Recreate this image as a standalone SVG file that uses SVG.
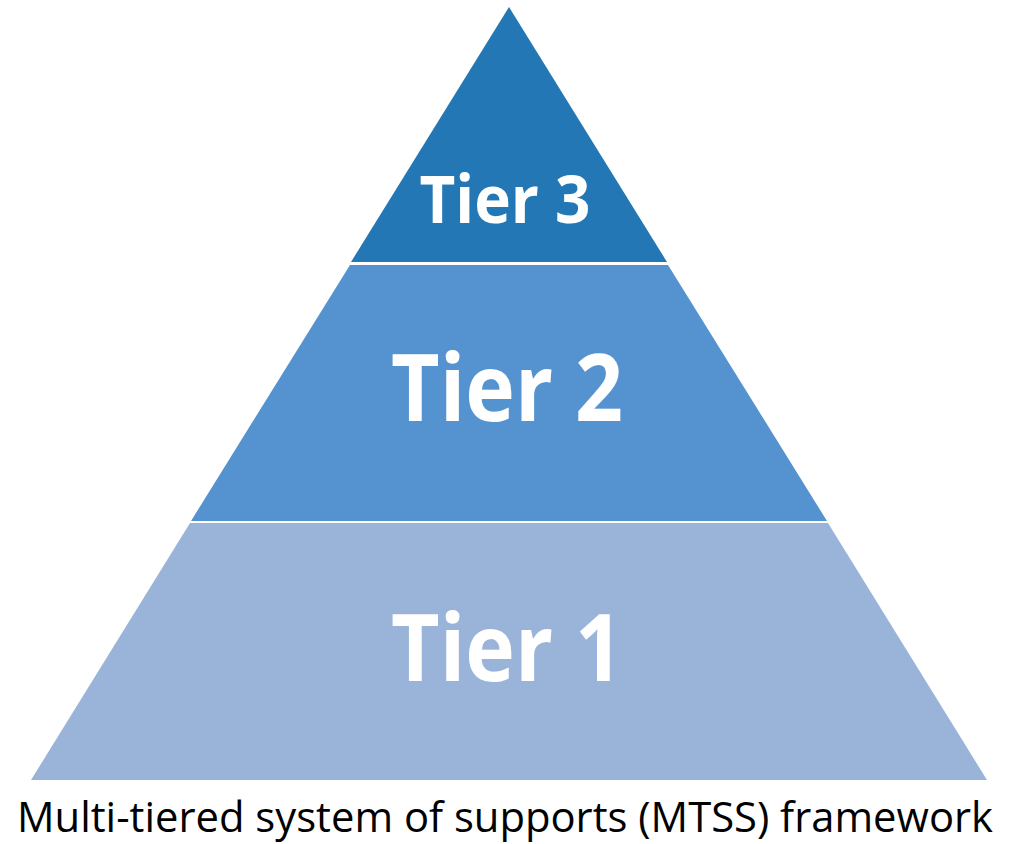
<svg xmlns="http://www.w3.org/2000/svg" width="1019" height="844" viewBox="0 0 1019 844">
  <style>
    .tier-label { font-family: "Open Sans", "Liberation Sans", sans-serif; font-weight: 700; fill: #ffffff; text-anchor: middle; }
    .caption { font-family: "Open Sans", "Liberation Sans", sans-serif; font-weight: 400; fill: #000000; text-anchor: middle; }
  </style>
  <rect width="1019" height="844" fill="#ffffff"/>

  <!-- Tier 1: base of the pyramid -->
  <g id="tier1">
    <polygon points="190,523 828,523 987,780 31,780" fill="#9AB4D9"/>
    <text class="tier-label" x="507" y="681" font-size="94" textLength="232" lengthAdjust="spacingAndGlyphs">Tier 1</text>
  </g>

  <!-- Tier 2: middle band -->
  <g id="tier2">
    <polygon points="350,265 668,265 827,521 191,521" fill="#5593D0"/>
    <text class="tier-label" x="507" y="421" font-size="94" textLength="232" lengthAdjust="spacingAndGlyphs">Tier 2</text>
  </g>

  <!-- Tier 3: apex -->
  <g id="tier3">
    <polygon points="509,7 667,262 351,262" fill="#2377B4"/>
    <text class="tier-label" x="505" y="223" font-size="67" textLength="171" lengthAdjust="spacingAndGlyphs">Tier 3</text>
  </g>

  <g id="connectors"/>

  <text class="caption" x="505" y="832" font-size="42" textLength="976" lengthAdjust="spacingAndGlyphs">Multi-tiered system of supports (MTSS) framework</text>
</svg>
